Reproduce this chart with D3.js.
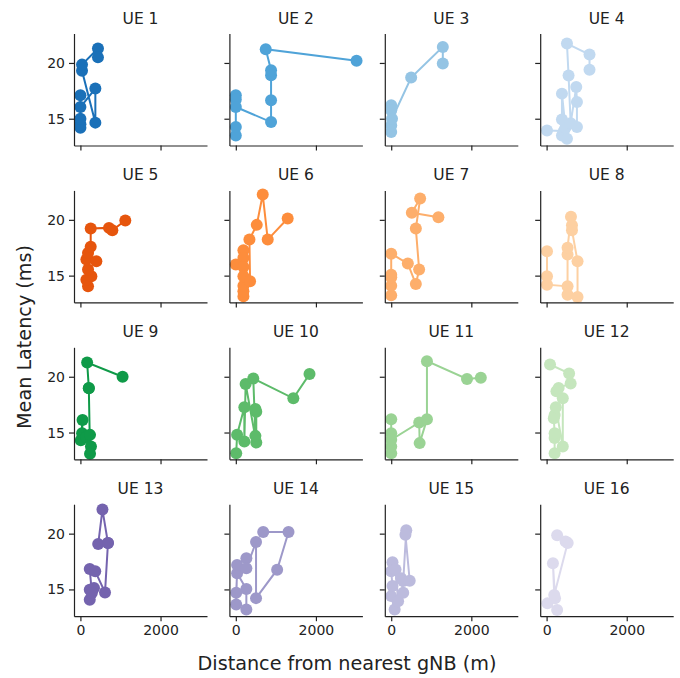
<!DOCTYPE html>
<html>
<head>
<meta charset="utf-8">
<script src="https://cdn.jsdelivr.net/npm/d3@7"></script>
<style>
  body { margin: 0; background: #fff; }
  svg { display: block; font-family: "DejaVu Sans", sans-serif; }
</style>
</head>
<body>
<script>
// one entry per UE, points in the order they were visited
let ueLabels = ["UE 1","UE 2","UE 3","UE 4","UE 5","UE 6","UE 7","UE 8",
                "UE 9","UE 10","UE 11","UE 12","UE 13","UE 14","UE 15","UE 16"];

let distances = [
  [0, 0, 0, 0, 0, 373, 373, 40, 40, 438, 438],
  [0, 0, 0, 0, 0, 880, 880, 880, 880, 747, 3014],
  [0, 0, 0, 0, 20, 498, 1288, 1288],
  [10, 430, 383, 508, 383, 383, 470, 757, 757, 740, 600, 548, 508, 1071, 1071],
  [190, 149, 274, 190, 149, 398, 190, 257, 257, 713, 797, 1121],
  [190, 190, 0, 190, 190, 190, 190, 190, 356, 340, 523, 672, 797, 1295],
  [0, 0, 0, 0, 0, 415, 615, 697, 615, 722, 515, 1178],
  [10, 10, 10, 523, 523, 523, 523, 608, 633, 633, 772, 772],
  [10, 53, 42, 150, 240, 263, 240, 210, 210, 168, 1053],
  [10, 32, 213, 213, 245, 511, 511, 489, 489, 436, 1436, 1840],
  [0, 0, 0, 0, 0, 699, 710, 892, 892, 1892, 2237],
  [200, 200, 200, 180, 200, 230, 404, 404, 245, 300, 600, 562, 85],
  [233, 233, 339, 286, 233, 370, 614, 688, 550, 444, 688],
  [263, 263, 32, 10, 10, 32, 263, 263, 505, 505, 1032, 1316, 684],
  [86, 0, 32, 0, 32, 108, 172, 300, 247, 300, 376, 355, 462],
  [263, 21, 210, 158, 190, 526, 474, 263]
];

let latencies = [
  [17.1, 14.2, 14.5, 15.0, 16.05, 17.7, 14.65, 19.3, 19.85, 21.3, 20.5],
  [13.5, 14.25, 17.1, 16.73, 16.05, 14.7, 16.65, 18.9, 19.35, 21.23, 20.2],
  [16.2, 15.75, 13.8, 14.4, 15.0, 18.69, 21.44, 19.95],
  [13.95, 13.9, 13.5, 13.2, 14.94, 17.25, 14.2, 14.25, 16.5, 17.85, 14.6, 18.87, 21.74, 20.75, 19.4],
  [14.04, 14.64, 14.94, 15.54, 16.44, 16.28, 17.04, 17.58, 19.22, 19.28, 19.07, 19.94],
  [17.27, 16.59, 15.99, 15.78, 13.14, 13.59, 14.1, 14.94, 14.49, 18.23, 19.55, 22.27, 18.23, 20.12],
  [13.23, 14.1, 14.85, 15.08, 16.97, 16.08, 14.25, 15.54, 19.22, 21.91, 20.63, 20.23],
  [17.18, 14.94, 14.19, 14.04, 13.29, 16.89, 17.49, 20.27, 19.52, 19.07, 16.28, 13.09],
  [14.3, 16.13, 14.94, 14.6, 14.79, 13.75, 13.1, 18.96, 19.0, 21.28, 20.0],
  [13.15, 14.8, 17.26, 14.2, 19.35, 14.1, 16.87, 17.11, 14.7, 19.85, 18.07, 20.24],
  [16.19, 13.15, 13.75, 14.94, 14.35, 15.9, 14.05, 16.19, 21.4, 19.8, 19.9],
  [13.15, 14.5, 14.94, 16.28, 16.58, 17.26, 13.75, 18.07, 18.7, 19.0, 19.4, 20.3, 21.1],
  [14.07, 14.97, 15.12, 14.67, 16.83, 16.62, 14.73, 19.16, 22.16, 19.07, 19.16],
  [13.2, 15.03, 16.45, 14.7, 13.65, 17.2, 17.8, 16.9, 19.25, 14.22, 16.77, 20.15, 20.15],
  [13.2, 14.4, 15.3, 16.63, 17.44, 16.78, 13.95, 14.7, 16.0, 15.75, 20.3, 19.9, 15.78],
  [13.15, 13.75, 14.2, 17.35, 14.5, 19.16, 19.3, 19.85]
];

let xTicks = [0, 2000];
let yTicks = [15, 20];

// tab20c-like, nudged to the saturation seen in the picture
let colors = ["#1a70b8","#4fa3d8","#94c4e4","#c1d9f0","#e6550d","#fd8d3c","#fdae6b","#fdd0a2",
              "#0f9a48","#5dbb6a","#9ad394","#c5e6bd","#7463ae","#9d98c9","#bcbbdd","#dcdaed"];

let width = 680, height = 678;
let gridLeft = 74, gridTop = 33.5, colStep = 155.4, rowStep = 156.9;
let pw = 133, ph = 112;

let svg = d3.select("body").append("svg")
    .attr("width", width)
    .attr("height", height);

// shared scales (sharex / sharey)
let xScale = d3.scaleLinear().domain([-160, 3160]).range([0, pw]);
let yScale = d3.scaleLinear().domain([12.6, 22.64]).range([ph, 0]);

let line = d3.line()
    .x(d => xScale(d[0]))
    .y(d => yScale(d[1]));

ueLabels.forEach(function(label, i) {
  let col = i % 4, row = Math.floor(i / 4);
  let g = svg.append("g")
      .attr("transform", "translate(" + (gridLeft + col * colStep) + "," + (gridTop + row * rowStep) + ")");

  let pts = distances[i].map((d, j) => [d, latencies[i][j]]);

  g.append("path")
      .datum(pts)
      .attr("d", line)
      .attr("fill", "none")
      .attr("stroke", colors[i])
      .attr("stroke-width", 2);

  g.selectAll("circle")
      .data(pts)
      .enter()
      .append("circle")
        .attr("cx", d => xScale(d[0]))
        .attr("cy", d => yScale(d[1]))
        .attr("r", 6)
        .attr("fill", colors[i]);

  let xAxis = d3.axisBottom(xScale)
      .tickValues(xTicks)
      .tickSize(5)
      .tickSizeOuter(0)
      .tickPadding(4)
      .tickFormat(row == 3 ? d3.format("d") : "");
  let yAxis = d3.axisLeft(yScale)
      .tickValues(yTicks)
      .tickSize(5)
      .tickSizeOuter(0)
      .tickPadding(4)
      .tickFormat(col == 0 ? d3.format("d") : "");

  let gx = g.append("g").attr("transform", "translate(0," + ph + ")").call(xAxis);
  let gy = g.append("g").call(yAxis);
  [gx, gy].forEach(function(a) {
    a.select(".domain").attr("stroke", "#222").attr("stroke-width", 1.2);
    a.selectAll(".tick line").attr("stroke", "#222").attr("stroke-width", 1.2);
    a.selectAll(".tick text")
        .attr("fill", "#222")
        .style("font-family", "DejaVu Sans")
        .style("font-size", "14px");
  });

  g.append("text")
      .attr("x", pw / 2)
      .attr("y", -10)
      .attr("text-anchor", "middle")
      .style("font-size", "15.5px")
      .attr("fill", "#222")
      .text(label);
});

svg.append("text")
    .attr("x", 347)
    .attr("y", 670)
    .attr("text-anchor", "middle")
    .style("font-size", "19.2px")
    .attr("fill", "#222")
    .text("Distance from nearest gNB (m)");

svg.append("text")
    .attr("transform", "translate(31,337) rotate(-90)")
    .attr("text-anchor", "middle")
    .style("font-size", "19.2px")
    .attr("fill", "#222")
    .text("Mean Latency (ms)");
</script>
</body>
</html>
